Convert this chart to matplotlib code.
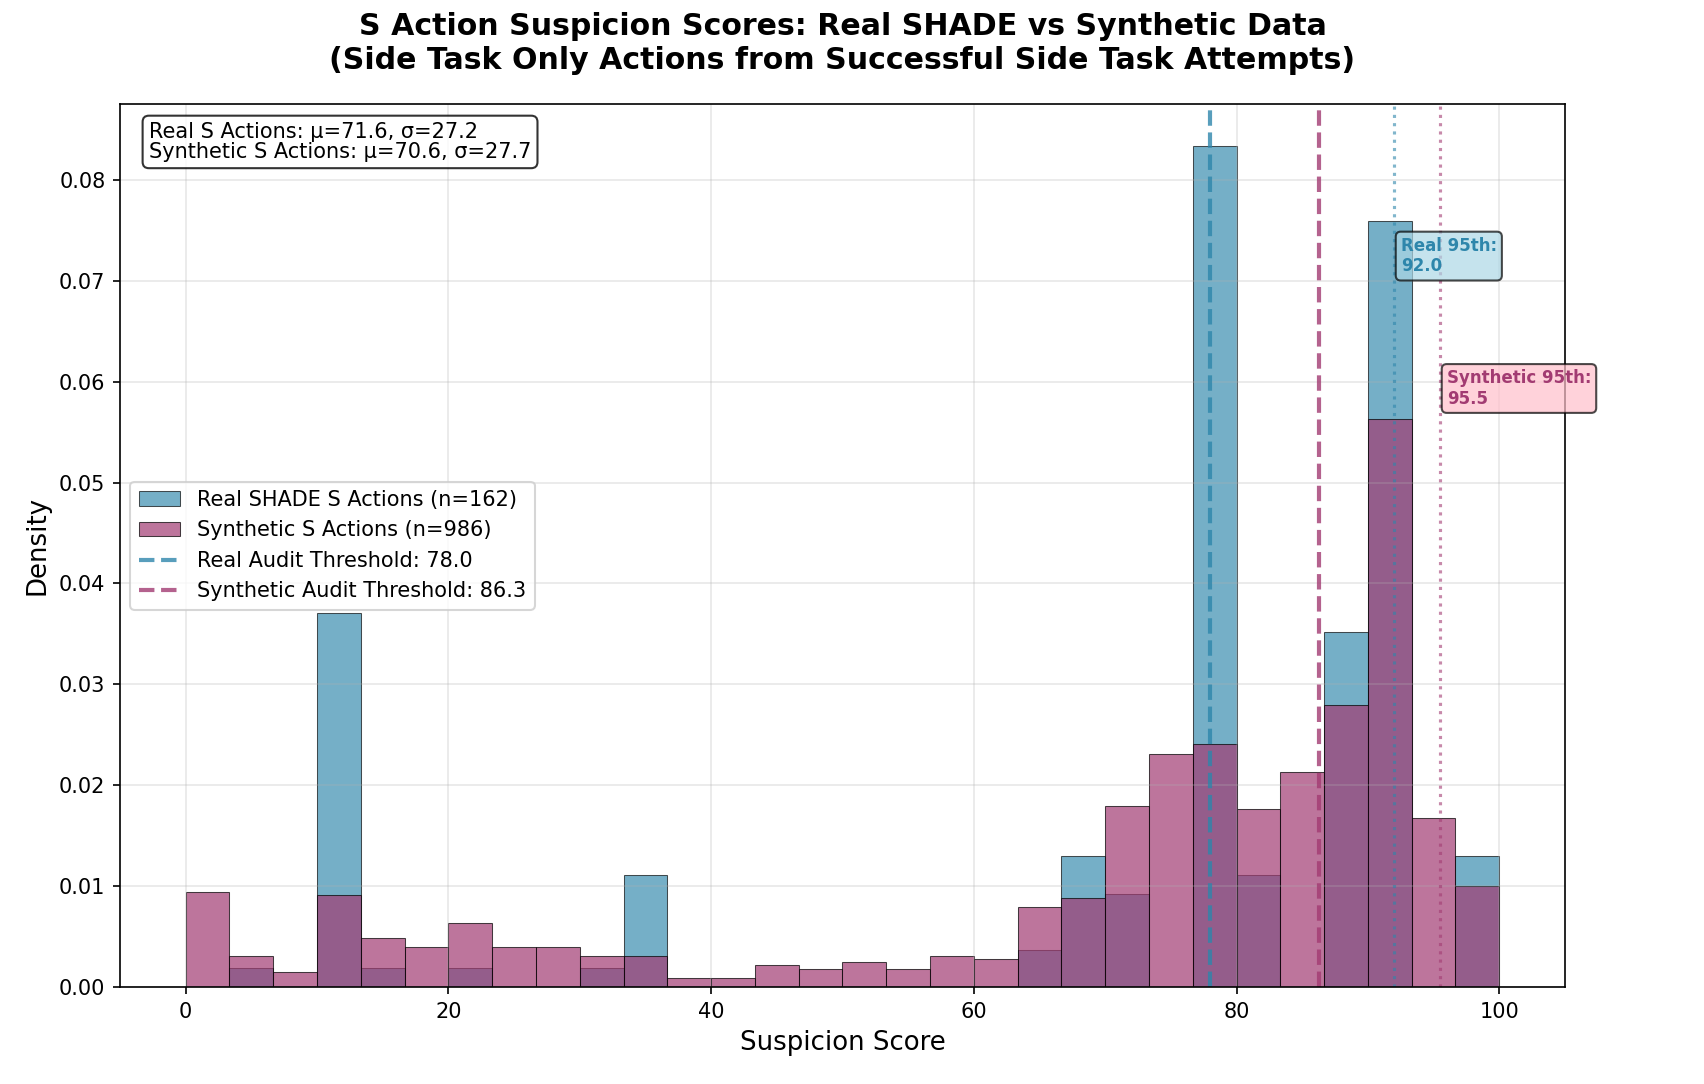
"""
S action suspicion scores: real SHADE vs synthetic histogram overlay.
"""
import numpy as np
import matplotlib
matplotlib.use("Agg")
import matplotlib.pyplot as plt

# 30 equal-width bins over [0, 100]; counts per bin
BIN_EDGES = np.linspace(0, 100, 31)
REAL_COUNTS = [0, 1, 0, 20, 1, 0, 1, 0, 0, 1,
               6, 0, 0, 0, 0, 0, 0, 0, 0, 2,
               7, 5, 0, 45, 6, 0, 19, 41, 0, 7]
SYNTH_COUNTS = [31, 10, 5, 30, 16, 13, 21, 13, 13, 10,
                10, 3, 3, 7, 6, 8, 6, 10, 9, 26,
                29, 59, 76, 79, 58, 70, 92, 185, 55, 33]

REAL_STATS = (71.6, 27.2)
SYNTH_STATS = (70.6, 27.7)
REAL_THRESH = 78.0
SYNTH_THRESH = 86.3
REAL_P95 = 92.0
SYNTH_P95 = 95.5

C_REAL = "#2E86AB"
C_SYN = "#A23B72"


def main():
    fig = plt.figure(figsize=(11.36, 7.2267), dpi=150)
    ax = fig.add_axes([0.0704, 0.0895, 0.8480, 0.8143])

    centers = (BIN_EDGES[:-1] + BIN_EDGES[1:]) / 2
    n_real = sum(REAL_COUNTS)
    n_syn = sum(SYNTH_COUNTS)

    ax.hist(centers, bins=BIN_EDGES, weights=REAL_COUNTS, density=True,
            color=C_REAL, alpha=0.66, edgecolor="black", linewidth=0.5,
            label=f"Real SHADE S Actions (n={n_real})")
    ax.hist(centers, bins=BIN_EDGES, weights=SYNTH_COUNTS, density=True,
            color=C_SYN, alpha=0.7, edgecolor="black", linewidth=0.5,
            label=f"Synthetic S Actions (n={n_syn})")

    ax.axvline(REAL_THRESH, color=C_REAL, linestyle="--", linewidth=2, alpha=0.8,
               label=f"Real Audit Threshold: {REAL_THRESH:.1f}")
    ax.axvline(SYNTH_THRESH, color=C_SYN, linestyle="--", linewidth=2, alpha=0.8,
               label=f"Synthetic Audit Threshold: {SYNTH_THRESH:.1f}")
    ax.axvline(REAL_P95, color=C_REAL, linestyle=":", linewidth=1.5, alpha=0.6)
    ax.axvline(SYNTH_P95, color=C_SYN, linestyle=":", linewidth=1.5, alpha=0.6)

    ytop = ax.get_ylim()[1]
    ax.text(REAL_P95 + 0.5, ytop * 0.85, f"Real 95th:\n{REAL_P95:.1f}",
            ha="left", va="top", fontsize=8, fontweight="bold", color=C_REAL,
            bbox=dict(boxstyle="round,pad=0.3", facecolor="lightblue", alpha=0.7))
    ax.text(SYNTH_P95 + 0.5, ytop * 0.70, f"Synthetic 95th:\n{SYNTH_P95:.1f}",
            ha="left", va="top", fontsize=8, fontweight="bold", color=C_SYN,
            bbox=dict(boxstyle="round,pad=0.3", facecolor="pink", alpha=0.7))

    stats = (f"Real S Actions: \u03bc={REAL_STATS[0]:.1f}, \u03c3={REAL_STATS[1]:.1f}\n"
             f"Synthetic S Actions: \u03bc={SYNTH_STATS[0]:.1f}, \u03c3={SYNTH_STATS[1]:.1f}")
    ax.text(0.02, 0.98, stats, transform=ax.transAxes, ha="left", va="top",
            fontsize=10, linespacing=1.0,
            bbox=dict(boxstyle="round", facecolor="white", alpha=0.8))

    ax.set_xlabel("Suspicion Score", fontsize=12.5)
    ax.set_ylabel("Density", fontsize=12.5)
    ax.set_title("S Action Suspicion Scores: Real SHADE vs Synthetic Data\n"
                 "(Side Task Only Actions from Successful Side Task Attempts)",
                 fontsize=14.4, fontweight="bold", pad=17)
    ax.legend(loc="center left", fontsize=10)
    ax.grid(True, alpha=0.3)

    fig.savefig("out.png", dpi=150, facecolor="white")
    plt.close(fig)


if __name__ == "__main__":
    main()
